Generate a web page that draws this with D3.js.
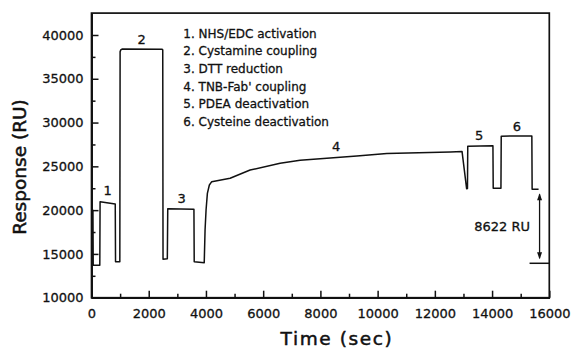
<!DOCTYPE html>
<html>
<head>
<meta charset="utf-8">
<script src="https://cdn.jsdelivr.net/npm/d3@7"></script>
<style>
  body { margin: 0; background: #fff; }
  svg text { font-family: "DejaVu Sans", "Liberation Sans", Arial, sans-serif; fill: #111; stroke: #111; stroke-width: 0.3px; }
</style>
</head>
<body>
<svg id="chart" width="571" height="349"></svg>
<script>
// sensorgram trace (sec, RU)
const timeSec = [0, 50, 60, 290, 300, 830, 840, 990, 1000, 1030, 1080, 2460, 2490, 2500, 2650, 2665,
  3580, 3590, 3940, 3969, 4004, 4050, 4119, 4203, 4844, 5543, 6592, 7291, 9274, 10323, 12544, 12950,
  13110, 13140, 13150, 14030, 14040, 14310, 14320, 15390, 15400, 15625];
const responseRU = [20000, 20000, 13700, 13700, 20960, 20700, 14100, 14100, 38100, 38330, 38400, 38380, 38300, 14400, 14450, 20150,
  20100, 14100, 14000, 17730, 20015, 21920, 22870, 23250, 23640, 24580, 25350, 25700, 26180, 26480, 26650, 26700,
  22450, 22480, 27300, 27350, 22490, 22500, 28450, 28470, 22380, 22380];

// step numbers above the trace
const stepNames = ["1", "2", "3", "4", "5", "6"];
const stepTime = [560, 1755, 3154, 8550, 13550, 14870];
const stepRU = [22300, 39510, 21350, 27320, 28580, 29530];

const legendLines = [
  "1. NHS/EDC activation",
  "2. Cystamine coupling",
  "3. DTT reduction",
  "4. TNB-Fab' coupling",
  "5. PDEA deactivation",
  "6. Cysteine deactivation"
];

const xTicks = [0, 2000, 4000, 6000, 8000, 10000, 12000, 14000, 16000];
const xMinor = [1000, 3000, 5000, 7000, 9000, 11000, 13000, 15000];
const yTicks = [10000, 15000, 20000, 25000, 30000, 35000, 40000];
const yMinor = [12500, 17500, 22500, 27500, 32500, 37500];

// immobilised level bracket
const bracketTime = 15660;
const bracketTop = 22380;
const bracketBase = 13930;
const bracketLabel = "8622 RU";

const svg = d3.select('#chart');

const x = d3.scaleLinear().domain([0, 16000]).range([91.5, 549.3]);
const y = d3.scaleLinear().domain([10000, 42500]).range([297.7, 13.1]);

//// frame ////
svg.append('rect')
  .attr('x', x(0)).attr('y', y(42500))
  .attr('width', x(16000) - x(0)).attr('height', y(10000) - y(42500))
  .attr('fill', 'none').attr('stroke', '#111').attr('stroke-width', 1.7);

//// axes, ticks point inward ////
svg.append('g').attr('transform', 'translate(0,' + y(10000) + ')')
  .call(d3.axisBottom(x).tickValues(xTicks).tickSize(-7).tickSizeOuter(0).tickPadding(11).tickFormat(d3.format('d')));
svg.append('g').attr('transform', 'translate(0,' + y(10000) + ')')
  .call(d3.axisBottom(x).tickValues(xMinor).tickSize(-4).tickSizeOuter(0).tickFormat(''));

svg.append('g').attr('transform', 'translate(' + x(0) + ',0)')
  .call(d3.axisLeft(y).tickValues(yTicks).tickSize(-7).tickSizeOuter(0).tickPadding(8).tickFormat(d3.format('d')));
svg.append('g').attr('transform', 'translate(' + x(0) + ',0)')
  .call(d3.axisLeft(y).tickValues(yMinor).tickSize(-4).tickSizeOuter(0).tickFormat(''));

svg.selectAll('.domain').attr('stroke', '#111').attr('stroke-width', 1.7);
svg.selectAll('.tick line').attr('stroke', '#111').attr('stroke-width', 1.5);
svg.selectAll('.tick text')
  .style('font-family', '"DejaVu Sans", sans-serif')
  .style('font-size', '13px').attr('fill', '#111');

//// axis titles ////
svg.append('text').text('Time (sec)')
  .attr('x', 337).attr('y', 345)
  .attr('text-anchor', 'middle')
  .style('font-size', '18.5px').style('letter-spacing', '1.6px').style('stroke-width', '0.5px');

svg.append('text').text('Response (RU)')
  .attr('transform', 'translate(26,167) rotate(-90)')
  .attr('text-anchor', 'middle')
  .style('font-size', '18.5px').style('stroke-width', '0.5px');

//// trace ////
const points = timeSec.map((t, i) => [t, responseRU[i]]);
const lineGen = d3.line().x(d => x(d[0])).y(d => y(d[1]));
svg.append('path').datum(points)
  .attr('d', lineGen)
  .attr('fill', 'none').attr('stroke', '#111').attr('stroke-width', 1.5)
  .attr('stroke-linejoin', 'round');

//// step numbers ////
svg.selectAll('.step').data(stepNames).enter().append('text')
  .classed('step', true)
  .text(d => d)
  .attr('x', (d, i) => x(stepTime[i]))
  .attr('y', (d, i) => y(stepRU[i]))
  .attr('dy', '0.36em')
  .attr('text-anchor', 'middle').style('font-size', '13px');

//// legend ////
svg.selectAll('.legend').data(legendLines).enter().append('text')
  .classed('legend', true)
  .text(d => d)
  .attr('x', 183.3)
  .attr('y', (d, i) => 33.3 + i * 17.7)
  .attr('dy', '0.36em')
  .style('font-size', '12px');

//// 8622 RU bracket ////
const bx = x(bracketTime);
svg.append('line')
  .attr('x1', x(15310)).attr('x2', x(16000))
  .attr('y1', y(bracketBase)).attr('y2', y(bracketBase))
  .attr('stroke', '#111').attr('stroke-width', 1.5);
svg.append('line')
  .attr('x1', bx).attr('x2', bx)
  .attr('y1', y(bracketTop) + 5).attr('y2', y(bracketBase) - 5)
  .attr('stroke', '#111').attr('stroke-width', 1.3);
const ah = 7, aw = 2.5;
svg.append('path')
  .attr('d', 'M' + bx + ',' + (y(bracketTop) + 4) + 'l' + (-aw) + ',' + ah + 'h' + (2 * aw) + 'z')
  .attr('fill', '#111');
svg.append('path')
  .attr('d', 'M' + bx + ',' + (y(bracketBase) - 4) + 'l' + (-aw) + ',' + (-ah) + 'h' + (2 * aw) + 'z')
  .attr('fill', '#111');
svg.append('text').text(bracketLabel)
  .attr('x', bx - 9.5).attr('y', y((bracketTop + bracketBase) / 2))
  .attr('dy', '0.36em')
  .attr('text-anchor', 'end').style('font-size', '13px');
</script>
</body>
</html>
